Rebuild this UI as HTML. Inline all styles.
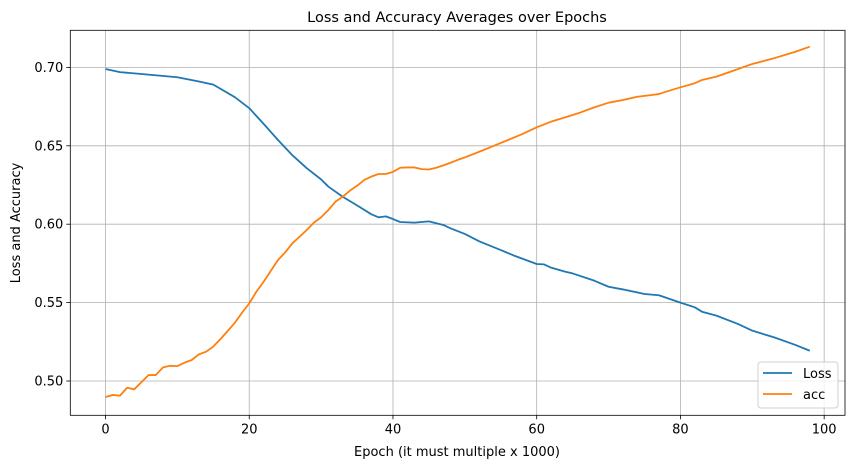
<!DOCTYPE html>
<html><head><meta charset="utf-8"><style>
body{margin:0;background:#fff;font-family:"Liberation Sans","DejaVu Sans",sans-serif}
svg text{font-family:"DejaVu Sans","Liberation Sans",sans-serif}
</style></head><body>
<svg id="chart" width="855" height="468" xmlns="http://www.w3.org/2000/svg"></svg>
<script>
const lossEpochs=[0,2,5,10,13,15,18,20,22,24,26,28,30,31,33,35,37,38,39,40,41,43,45,47,48,50,52,55,57,60,61,62,64,65,68,70,72,75,77,80,82,83,85,88,90,93,96,98];
const lossValues=[0.699,0.697,0.6958,0.6937,0.691,0.689,0.681,0.674,0.664,0.6537,0.644,0.6357,0.6286,0.624,0.6175,0.612,0.6063,0.6044,0.605,0.6033,0.6014,0.601,0.6018,0.5995,0.5974,0.5938,0.5891,0.5835,0.5797,0.5746,0.5744,0.5723,0.5697,0.5686,0.564,0.5601,0.5584,0.5555,0.5547,0.550,0.547,0.5442,0.5417,0.5364,0.5321,0.5279,0.523,0.5193];
const accEpochs=[0,1,2,3,4,5,6,7,8,9,10,11,12,13,14,15,16,17,18,19,20,21,22,23,24,25,26,27,28,29,30,31,32,33,34,35,36,37,38,39,40,41,42,43,44,45,46,47,48,49,50,52,54,56,58,60,62,64,66,68,70,72,74,76,77,78,80,82,83,85,87,90,93,96,98];
const accValues=[0.4898,0.4911,0.4906,0.4957,0.4947,0.4993,0.5038,0.5038,0.5087,0.5097,0.5095,0.5117,0.5134,0.517,0.5187,0.522,0.5268,0.5319,0.5372,0.5436,0.5495,0.557,0.5633,0.5702,0.5772,0.582,0.5878,0.592,0.5963,0.601,0.6044,0.609,0.6144,0.6175,0.6214,0.6245,0.6282,0.6304,0.632,0.632,0.6334,0.636,0.6362,0.6362,0.6351,0.6349,0.636,0.6375,0.6392,0.641,0.6426,0.6462,0.6499,0.6537,0.6575,0.6618,0.6654,0.6682,0.6711,0.6745,0.6775,0.6792,0.6813,0.6824,0.683,0.6845,0.6873,0.6899,0.692,0.6941,0.6973,0.7022,0.7058,0.71,0.7132];
const xTicks=[0,20,40,60,80,100];
const yTicks=[0.50,0.55,0.60,0.65,0.70];
const NS="http://www.w3.org/2000/svg";
const svg=document.getElementById('chart');
const L=70.3,R=845,T=30.3,B=415.3;
const xMin=-4.9,xMax=102.9;
function sx(v){return L+(v-xMin)/(xMax-xMin)*(R-L);}
function sy(v){return 381-(v-0.5)*1568;}
function el(t,a){const e=document.createElementNS(NS,t);for(const k in a)e.setAttribute(k,a[k]);svg.appendChild(e);return e;}
xTicks.forEach(t=>{
 const g=el('line',{x1:sx(t),x2:sx(t),y1:T,y2:B,stroke:'#b0b0b0','stroke-width':0.8});
 
 
 el('line',{x1:sx(t),x2:sx(t),y1:B,y2:B+4,stroke:'#000','stroke-width':0.8});
 const tx=el('text',{x:sx(t),y:B+18,'text-anchor':'middle','font-size':13});
 tx.textContent=t;
 
 
});
yTicks.forEach(t=>{
 const g=el('line',{x1:L,x2:R,y1:sy(t),y2:sy(t),stroke:'#b0b0b0','stroke-width':0.8});
 
 
 el('line',{x1:L-4,x2:L,y1:sy(t),y2:sy(t),stroke:'#000','stroke-width':0.8});
 const tx=el('text',{x:L-7,y:sy(t)+4.5,'text-anchor':'end','font-size':13});
 tx.textContent=t.toFixed(2);
 
 
});
function line(xs,ys,c,name){
 const p=el('polyline',{points:xs.map((x,i)=>sx(x)+','+sy(ys[i])).join(' '),fill:'none',stroke:c,'stroke-width':1.8,'stroke-linejoin':'round'});
 
 
}
line(lossEpochs,lossValues,'#1f77b4','loss-line');
line(accEpochs,accValues,'#ff7f0e','acc-line');
const fr=el('rect',{x:L,y:T,width:R-L,height:B-T,fill:'none',stroke:'#000','stroke-width':0.8});


</script>
<svg width="855" height="468" style="position:absolute;left:0;top:0" xmlns="http://www.w3.org/2000/svg">
<text x="457" y="22" text-anchor="middle" font-size="14.5">Loss and Accuracy Averages over Epochs</text>
<text x="457" y="456" text-anchor="middle" font-size="13">Epoch (it must multiple x 1000)</text>
<text x="0" y="0" transform="translate(20,223) rotate(-90)" text-anchor="middle" font-size="13">Loss and Accuracy</text>
<g>
<rect x="758" y="362" width="80" height="46" rx="3" fill="#fff" fill-opacity="0.8" stroke="#d0d0d0"/>
<line x1="763" x2="792" y1="373" y2="373" stroke="#1f77b4" stroke-width="1.8"/>
<text x="803" y="378" font-size="13">Loss</text>
<line x1="763" x2="792" y1="394" y2="394" stroke="#ff7f0e" stroke-width="1.8"/>
<text x="803" y="399" font-size="13">acc</text>
</g>
</svg>
</body></html>
